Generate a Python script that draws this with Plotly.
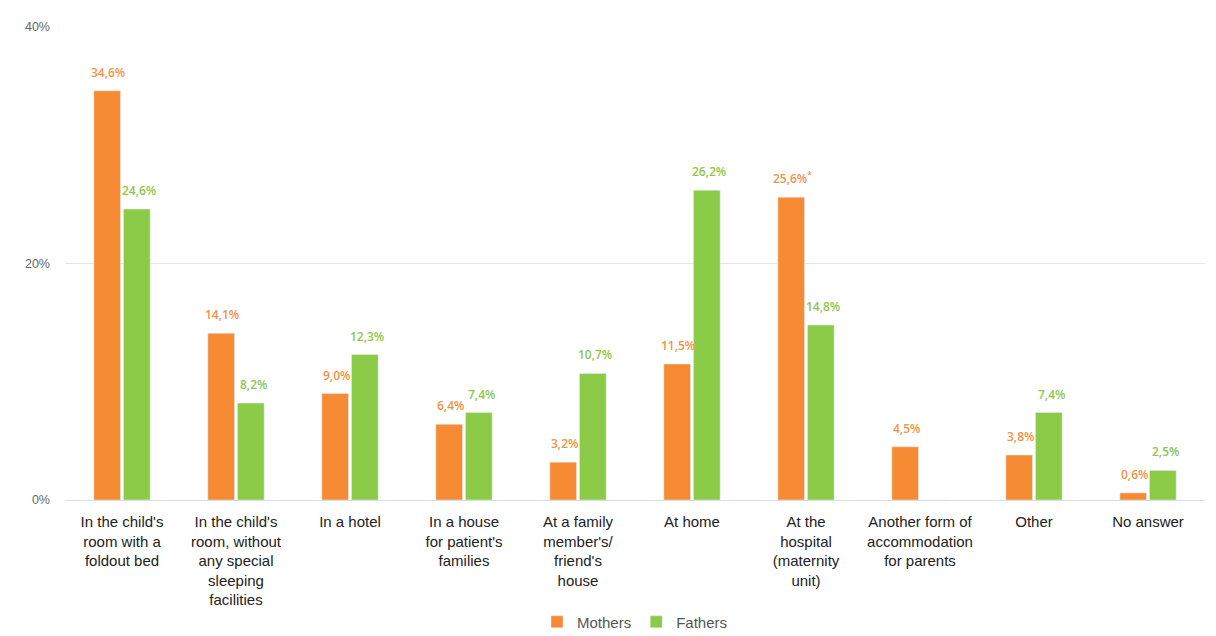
import plotly.graph_objects as go

categories = [
    "In the child's<br>room with a<br>foldout bed",
    "In the child's<br>room, without<br>any special<br>sleeping<br>facilities",
    "In a hotel",
    "In a house<br>for patient's<br>families",
    "At a family<br>member's/<br>friend's<br>house",
    "At home",
    "At the<br>hospital<br>(maternity<br>unit)",
    "Another form of<br>accommodation<br>for parents",
    "Other",
    "No answer",
]
mothers = [34.6, 14.1, 9.0, 6.4, 3.2, 11.5, 25.6, 4.5, 3.8, 0.6]
fathers = [24.6, 8.2, 12.3, 7.4, 10.7, 26.2, 14.8, 0.0, 7.4, 2.5]
mothers_text = ["34,6%", "14,1%", "9,0%", "6,4%", "3,2%", "11,5%", "25,6%<sup>*</sup>", "4,5%", "3,8%", "0,6%"]
fathers_text = ["24,6%", "8,2%", "12,3%", "7,4%", "10,7%", "26,2%", "14,8%", "", "7,4%", "2,5%"]
y_ticks = [0, 20, 40]
y_tick_labels = ["0%", "20%", "40%"]

ORANGE = "#F68B33"
GREEN = "#8CCB47"
ORANGE_T = "#F39245"
GREEN_T = "#8DC74C"

fig = go.Figure()
fig.add_trace(go.Bar(name="Mothers", x=categories, y=mothers, marker_color=ORANGE, hoverinfo="skip"))
fig.add_trace(go.Bar(name="Fathers", x=categories, y=fathers, marker_color=GREEN, hoverinfo="skip"))

annotations = []
for c, v, t in zip(categories, mothers, mothers_text):
    if t:
        annotations.append(dict(x=c, y=v, text=t, showarrow=False, xshift=-14, yshift=8,
                                yanchor="bottom",
                                font=dict(color=ORANGE_T, size=12, family="Open Sans", weight=600),
                                xref="x", yref="y"))
for c, v, t in zip(categories, fathers, fathers_text):
    if t:
        annotations.append(dict(x=c, y=v, text=t, showarrow=False, xshift=17, yshift=8,
                                yanchor="bottom",
                                font=dict(color=GREEN_T, size=12, family="Open Sans", weight=600),
                                xref="x", yref="y"))

fig.update_layout(
    width=1216, height=636,
    margin=dict(l=65, r=11, t=27, b=136, autoexpand=False),
    paper_bgcolor="white", plot_bgcolor="white",
    barmode="group", bargap=0.48, bargroupgap=0.1,
    font=dict(family="Liberation Sans, Arial, sans-serif", color="#333333"),
    annotations=annotations,
    legend=dict(orientation="h", x=0.5, xanchor="center", yref="container", y=0.022,
                yanchor="middle", xref="paper",
                font=dict(size=15, color="#555555"), itemwidth=30, tracegroupgap=0,
                itemclick=False),
    showlegend=True,
)
fig.update_xaxes(showgrid=False, tickfont=dict(size=15, color="#222222"), ticks="",
                 showline=True, linecolor="#D5DDE6", linewidth=1, tickangle=0,
                 ticklabelstandoff=8, automargin=False)
fig.update_yaxes(range=[0, 40], tickmode="array", tickvals=y_ticks, ticktext=y_tick_labels,
                 showgrid=True, gridcolor="#E6E6E6", gridwidth=1, zeroline=False,
                 tickfont=dict(size=12.5, color="#666666", family="Liberation Sans"),
                 ticklabelstandoff=14, automargin=False)

fig.write_html("out.html")
